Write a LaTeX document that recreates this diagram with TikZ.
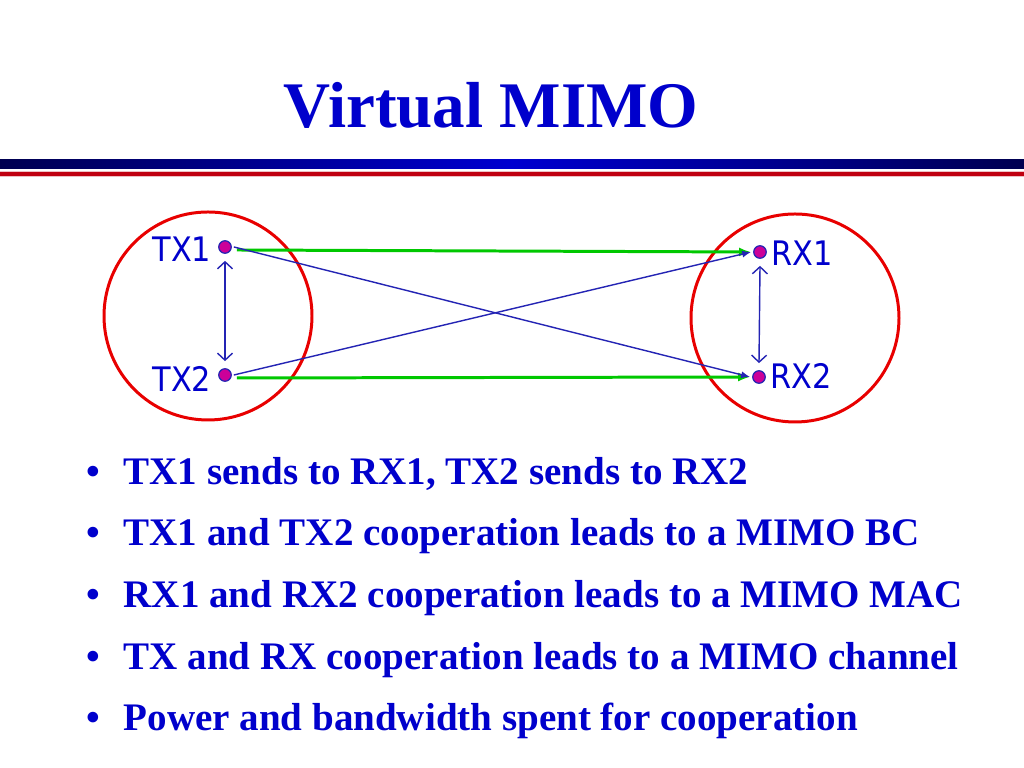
\documentclass[tikz,border=0pt]{standalone}
\usepackage{fontspec}
\setmainfont{Liberation Serif}
\newfontfamily\lblfont{DejaVu Sans Condensed}
\usetikzlibrary{arrows.meta}
\definecolor{txtblue}{HTML}{0000CC}
\definecolor{lineblue}{HTML}{2424B4}
\definecolor{navy}{HTML}{000050}
\definecolor{barblue}{HTML}{0000D0}
\definecolor{barred}{HTML}{C00010}
\definecolor{ringred}{HTML}{E80000}
\definecolor{dotfill}{HTML}{CC0099}
\definecolor{grn}{HTML}{00C800}
\tikzset{
  dot/.style={circle,fill=dotfill,draw=lineblue,line width=0.35pt,minimum size=0.125cm,inner sep=0pt},
  lbl/.style={font=\lblfont\fontsize{9.6pt}{11pt}\selectfont,text=txtblue,inner sep=0pt},
  bullet/.style={font=\bfseries\fontsize{11.1pt}{13pt}\selectfont,text=txtblue,inner sep=0pt,anchor=base west},
  ring/.style={draw=ringred,line width=0.85pt},
  direct/.style={draw=grn,line width=0.85pt,-{Latex[length=1.2mm,width=0.9mm]}},
  cross/.style={draw=lineblue,line width=0.4pt,-{Latex[length=0.9mm,width=0.7mm]}},
  coop/.style={draw=lineblue,line width=0.4pt,{Straight Barb[length=0.7mm,width=1.5mm]}-{Straight Barb[length=0.7mm,width=1.5mm]}}
}
\begin{document}
\begin{tikzpicture}[x=0.01cm,y=-0.01cm]
\useasboundingbox (0,0) rectangle (1024,768);
\fill[white] (0,0) rectangle (1024,768);
% title
\node[font=\bfseries\fontsize{18.5pt}{22pt}\selectfont,text=txtblue,inner sep=0pt,anchor=base] (title) at (491,128) {Virtual MIMO};
% bars
\shade[left color=navy,right color=barblue] (0,160) rectangle (512,168.5);
\shade[left color=barblue,right color=navy] (512,160) rectangle (1024,168.5);
\fill[barred!25] (0,171.5) rectangle (1024,177.5);
\fill[barred] (0,172.5) rectangle (1024,176.5);
% rings
\draw[ring] (208,316) circle (104);
\draw[ring] (795,318) circle (104);
% dots
\node[dot] (tx1) at (225,247) {};
\node[dot] (tx2) at (225,375) {};
\node[dot] (rx1) at (760,252) {};
\node[dot] (rx2) at (759,377) {};
% labels
\node[lbl,anchor=base east] (ltx1) at (212,262) {TX1};
\node[lbl,anchor=base east] (ltx2) at (212,392) {TX2};
\node[lbl,anchor=base west] (lrx1) at (771,266) {RX1};
\node[lbl,anchor=base west] (lrx2) at (770,389) {RX2};
% connectors
\draw[direct] ([xshift=0.05cm,yshift=-0.03cm]tx1.east) -- ([xshift=-0.02cm]rx1.west);
\draw[direct] ([xshift=0.05cm,yshift=-0.03cm]tx2.east) -- ([xshift=-0.02cm]rx2.west);
\draw[cross] ([xshift=0.02cm]tx1.east) -- ([xshift=-0.02cm]rx2.west);
\draw[cross] ([xshift=0.02cm]tx2.east) -- ([xshift=-0.02cm]rx1.west);
\draw[coop] ([yshift=-0.07cm]tx1.south) -- ([yshift=0.07cm]tx2.north);
\draw[coop] ([yshift=-0.07cm]rx1.south) -- ([yshift=0.07cm]rx2.north);
% bullets
\foreach \y/\t [count=\i] in {485/{TX1 sends to RX1, TX2 sends to RX2},
                   546/{TX1 and TX2 cooperation leads to a MIMO BC},
                   608/{RX1 and RX2 cooperation leads to a MIMO MAC},
                   670/{TX and RX cooperation leads to a MIMO channel},
                   731/{Power and bandwidth spent for cooperation}}{
  \node[bullet] (b\i) at (86,\y) {\textbullet};
  \node[bullet] (t\i) at (123,\y) {\t};
}
\end{tikzpicture}
\end{document}
